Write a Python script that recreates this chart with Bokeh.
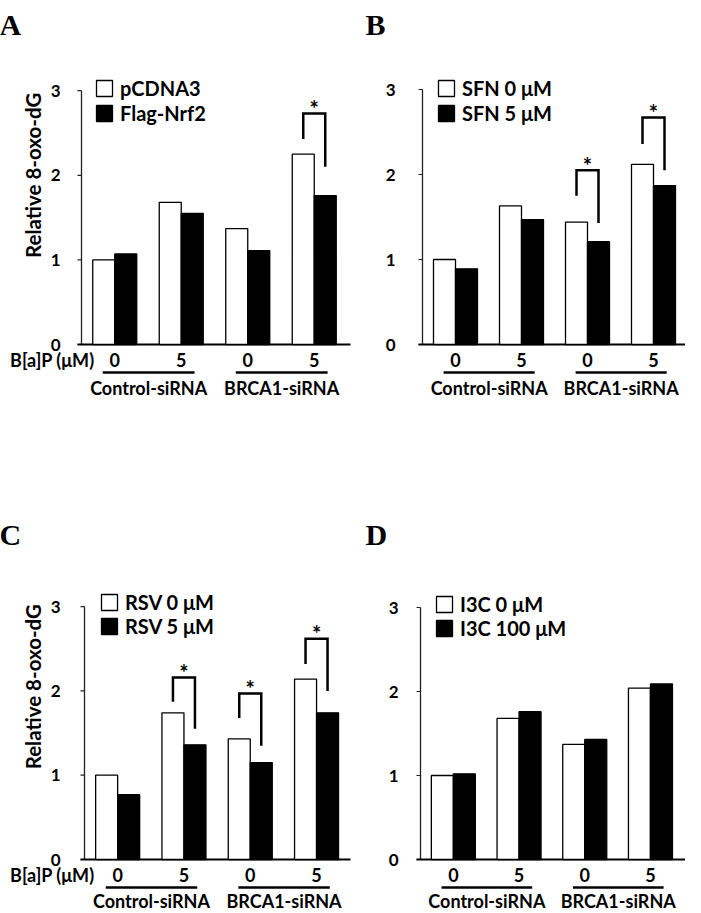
import math
from bokeh.plotting import figure
from bokeh.models import Range1d, Legend, LegendItem
from bokeh.layouts import column, row
from bokeh.embed import file_html
from bokeh.resources import INLINE
from bokeh.core.properties import value

# ---------------- data ----------------
groups = ["Control-siRNA", "BRCA1-siRNA"]
dose_labels = ["0", "5", "0", "5"]
yticks = [0, 1, 2, 3]
y_title = "Relative 8-oxo-dG"
dose_title = "B[a]P (μM)"

A_legend = ["pCDNA3", "Flag-Nrf2"]
A_white = [1.00, 1.68, 1.37, 2.25]
A_black = [1.07, 1.55, 1.11, 1.76]
A_sig = [3]
A_sig_top = [2.73]
A_sig_left = [2.43]
A_sig_right = [2.10]

B_legend = ["SFN 0 μM", "SFN 5 μM"]
B_white = [1.00, 1.63, 1.44, 2.12]
B_black = [0.89, 1.47, 1.21, 1.87]
B_sig = [2, 3]
B_sig_top = [2.05, 2.67]
B_sig_left = [1.75, 2.36]
B_sig_right = [1.43, 2.05]

C_legend = ["RSV 0 μM", "RSV 5 μM"]
C_white = [1.00, 1.74, 1.43, 2.14]
C_black = [0.77, 1.36, 1.15, 1.74]
C_sig = [1, 2, 3]
C_sig_top = [2.16, 1.97, 2.62]
C_sig_left = [1.87, 1.68, 2.32]
C_sig_right = [1.55, 1.35, 2.00]

D_legend = ["I3C 0 μM", "I3C 100 μM"]
D_white = [1.00, 1.68, 1.37, 2.04]
D_black = [1.02, 1.76, 1.43, 2.09]
D_sig = []
D_sig_top = []
D_sig_left = []
D_sig_right = []

FONT = "Lato"
SERIF = "Liberation Serif"

# layout: positions in reference-image pixels (canvas = whole panel = plot frame)
LAY_A = dict(canvas=(8, 0, 352, 500), axis_x=89, x_end=358, px_x=66.5, y0=344, py=84.6,
             standoff=17, legend_xy=(97, 78), step=25, letter_xy=(7, 24),
             ylabel=(40, 2.00), group_off=43, show_left=True)
LAY_B = dict(canvas=(360, 0, 333, 500), axis_x=430, x_end=700, px_x=66.0, y0=344, py=85.0,
             standoff=23, legend_xy=(439, 78), step=25, letter_xy=(373, 24),
             ylabel=None, group_off=43, show_left=False)
LAY_C = dict(canvas=(8, 500, 352, 413), axis_x=92, x_end=358, px_x=66.3, y0=859, py=84.3,
             standoff=20, legend_xy=(102, 592), step=24, letter_xy=(7, 534),
             ylabel=(40, 2.05), group_off=41, show_left=True)
LAY_D = dict(canvas=(360, 500, 333, 413), axis_x=428, x_end=700, px_x=65.7, y0=859, py=84.0,
             standoff=18, legend_xy=(437, 594), step=24, letter_xy=(373, 534),
             ylabel=None, group_off=41, show_left=False)


def make_panel(letter, legend_labels, white, black, sig_idx, sig_top, sig_left, sig_right, lay):
    cx0, cy0, W, H = lay["canvas"]
    ax, pxx = lay["axis_x"], lay["px_x"]
    y0, py = lay["y0"], lay["py"]
    X = lambda px: (px - ax) / pxx        # page x -> data x
    Y = lambda px: (y0 - px) / py         # page y -> data y
    p = figure(width=W, height=H,
               x_range=Range1d(X(cx0), X(cx0 + W)),
               y_range=Range1d(Y(cy0 + H), Y(cy0)),
               output_backend="svg", toolbar_location=None,
               x_axis_location=None, y_axis_location=None,
               min_border=0, min_border_left=0, min_border_right=0,
               min_border_top=0, min_border_bottom=0)
    p.outline_line_color = None
    p.grid.visible = False
    p.background_fill_color = "white"
    p.border_fill_color = "white"

    tick = 4 / pxx
    # y axis: line, ticks, labels
    p.segment(x0=[0], y0=[min(yticks)], x1=[0], y1=[max(yticks)],
              line_color="#222222", line_width=1.3)
    p.segment(x0=[-tick] * len(yticks), y0=yticks, x1=[0] * len(yticks), y1=yticks,
              line_color="#222222", line_width=1.2)
    p.text(x=[0] * len(yticks), y=yticks, text=[str(t) for t in yticks],
           x_offset=-(lay["standoff"] + 4), text_align="right", text_baseline="middle",
           text_font=value(FONT), text_font_style="bold", text_font_size="17px",
           text_color="black")

    # x axis line
    p.segment(x0=[-tick], y0=[0], x1=[X(lay["x_end"])], y1=[0],
              line_color="black", line_width=2)

    n = len(white)
    centers = [i + 0.5 for i in range(n)]
    bw = 22 / pxx
    r_w = p.vbar(x=[c - bw / 2 for c in centers], top=white, bottom=0, width=bw,
                 fill_color="white", line_color="black", line_width=1.3)
    r_b = p.vbar(x=[c + bw / 2 for c in centers], top=black, bottom=0, width=bw,
                 fill_color="black", line_color="black", line_width=1.3)

    # significance brackets
    if sig_idx:
        xs, ys = [], []
        for k, gi in enumerate(sig_idx):
            c = centers[gi]
            xs.append([c - bw / 2, c - bw / 2, c + bw / 2, c + bw / 2])
            ys.append([sig_left[k], sig_top[k], sig_top[k], sig_right[k]])
        p.multi_line(xs=xs, ys=ys, line_color="black", line_width=2.5, line_join="miter")
        p.text(x=[centers[gi] for gi in sig_idx], y=sig_top, text=["*"] * len(sig_idx),
               text_align="center", text_baseline="middle", y_offset=-5,
               text_font=value(FONT), text_font_style="bold", text_font_size="22px",
               text_color="black")

    # dose tick labels
    p.text(x=centers, y=[0] * n, text=dose_labels, y_offset=15, text_align="center",
           text_baseline="middle", text_font=value(FONT), text_font_style="bold",
           text_font_size="18px", text_color="black")

    # group underlines + labels
    uy = -28 / py
    gx0 = [centers[0] - 0.18, centers[2] - 0.18]
    gx1 = [centers[1] + 0.20, centers[3] + 0.20]
    p.segment(x0=gx0, y0=[uy, uy], x1=gx1, y1=[uy, uy], line_color="black", line_width=2.5)
    p.text(x=[(a + b) / 2 for a, b in zip(gx0, gx1)], y=[0, 0], text=groups,
           y_offset=lay["group_off"], text_align="center", text_baseline="middle",
           text_font=value(FONT), text_font_style="bold", text_font_size="18px",
           text_color="black")

    # legend (rows are ~24px tall with 20px text; glyph 20px centred in row)
    lx, ly = lay["legend_xy"]
    step = lay["step"]
    row_h = 24
    leg_top = ly - (row_h - 20) / 2
    leg_bottom = leg_top + 2 * row_h + (step - row_h)
    leg = Legend(items=[LegendItem(label=legend_labels[0], renderers=[r_w]),
                        LegendItem(label=legend_labels[1], renderers=[r_b])],
                 location=(lx - cx0 + 5, (cy0 + H) - leg_bottom),
                 glyph_width=20, glyph_height=20, label_height=20, spacing=step - row_h,
                 padding=0, margin=0, label_standoff=6,
                 border_line_color=None, background_fill_alpha=0,
                 label_text_font=FONT, label_text_font_style="bold",
                 label_text_font_size="20px", label_text_color="black")
    p.add_layout(leg)

    # panel letter
    lx2, lc2 = lay["letter_xy"]
    p.text(x=[X(lx2)], y=[Y(lc2)], text=[letter], text_align="left",
           text_baseline="middle", text_font=value(SERIF), text_font_style="bold",
           text_font_size="30px", text_color="black")

    if lay["show_left"]:
        yl_x, yl_y = lay["ylabel"]
        p.text(x=[X(yl_x)], y=[yl_y], text=[y_title], angle=math.pi / 2,
               text_align="center", text_baseline="middle", text_font=value(FONT),
               text_font_style="bold", text_font_size="20.5px", text_color="black")
        p.text(x=[X(102)], y=[0], text=[dose_title], y_offset=15,
               text_align="right", text_baseline="middle", text_font=value(FONT),
               text_font_style="bold", text_font_size="18px", text_color="black")
    return p


pA = make_panel("A", A_legend, A_white, A_black, A_sig, A_sig_top, A_sig_left, A_sig_right, LAY_A)
pB = make_panel("B", B_legend, B_white, B_black, B_sig, B_sig_top, B_sig_left, B_sig_right, LAY_B)
pC = make_panel("C", C_legend, C_white, C_black, C_sig, C_sig_top, C_sig_left, C_sig_right, LAY_C)
pD = make_panel("D", D_legend, D_white, D_black, D_sig, D_sig_top, D_sig_left, D_sig_right, LAY_D)

layout = column(row(pA, pB, spacing=0), row(pC, pD, spacing=0), spacing=0)

open("out.html", "w").write(file_html(layout, INLINE))
